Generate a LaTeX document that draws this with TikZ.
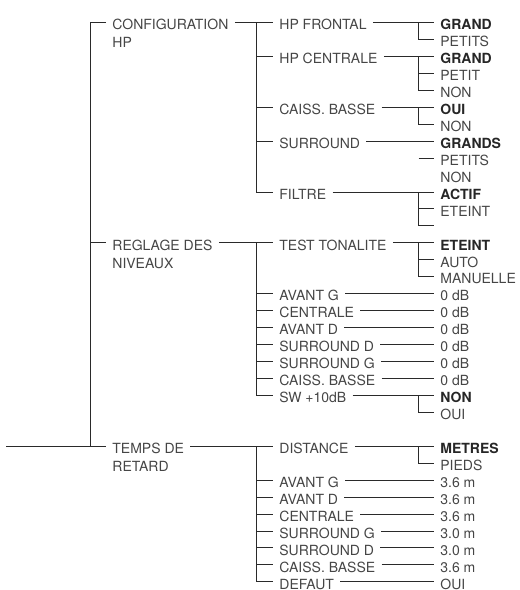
\documentclass[tikz,border=0pt]{standalone}
\usepackage{fontspec}
\setmainfont{TeX Gyre Heros}
\definecolor{txtgray}{HTML}{454545}
\definecolor{wiregray}{HTML}{2A2A2A}
\tikzset{
  item/.style={anchor=west, inner xsep=3pt, inner ysep=0pt, text height=0.72em, text depth=0pt,
    font=\fontsize{7}{8}\selectfont, text=txtgray},
  pick/.style={item, font=\fontsize{7}{8}\selectfont\bfseries, text=black!85},
  wire/.style={draw=wiregray, line width=0.5pt}
}
\begin{document}
\begin{tikzpicture}[x=0.5pt, y=-8.475pt]
                \useasboundingbox (0,-1.3274) rectangle (520,33.481);

                % trunks
                \coordinate (root) at (6,25);
                \coordinate (t1) at (90.5,0);
                \coordinate (t2) at (256.5,0);
                \coordinate (t3) at (418.5,0);

                % level 1
                \node[item] (cfg) at (106,0) {CONFIGURATION};
                \node[item] (cfgb) at (106,1.06) {HP};
                \node[item] (reg) at (106,13) {REGLAGE DES};
                \node[item] (regb) at (106,14.06) {NIVEAUX};
                \node[item] (tps) at (106,25) {TEMPS DE};
                \node[item] (tpsb) at (106,26.06) {RETARD};

                % level 2
                \node[item] (hpf) at (273,0) {HP FRONTAL};
                \node[item] (hpc) at (273,2) {HP CENTRALE};
                \node[item] (cb) at (273,5) {CAISS. BASSE};
                \node[item] (sur) at (273,7) {SURROUND};
                \node[item] (fil) at (273,10) {FILTRE};

                \node[item] (tst) at (273,13) {TEST TONALITE};
                \node[item] (avg) at (273,16) {AVANT G};
                \node[item] (cen) at (273,17) {CENTRALE};
                \node[item] (avd) at (273,18) {AVANT D};
                \node[item] (srd) at (273,19) {SURROUND D};
                \node[item] (srg) at (273,20) {SURROUND G};
                \node[item] (cbs) at (273,21) {CAISS. BASSE};
                \node[item] (sw) at (273,22) {SW +10dB};

                \node[item] (dst) at (273,25) {DISTANCE};
                \node[item] (dag) at (273,27) {AVANT G};
                \node[item] (dad) at (273,28) {AVANT D};
                \node[item] (dce) at (273,29) {CENTRALE};
                \node[item] (dsg) at (273,30) {SURROUND G};
                \node[item] (dsd) at (273,31) {SURROUND D};
                \node[item] (dcb) at (273,32) {CAISS. BASSE};
                \node[item] (dft) at (273,33) {DEFAUT};

                % level 3
                \node[pick] (hpfa) at (434,0) {GRAND};
                \node[item] (hpfb) at (434,1) {PETITS};
                \node[pick] (hpca) at (434,2) {GRAND};
                \node[item] (hpcb) at (434,3) {PETIT};
                \node[item] (hpcc) at (434,4) {NON};
                \node[pick] (cba) at (434,5) {OUI};
                \node[item] (cbb) at (434,6) {NON};
                \node[pick] (sura) at (434,7) {GRANDS};
                \node[item] (surb) at (434,8) {PETITS};
                \node[item] (surc) at (434,9) {NON};
                \node[pick] (fila) at (434,10) {ACTIF};
                \node[item] (filb) at (434,11) {ETEINT};
                \coordinate (filc) at (434,12);

                \node[pick] (tsta) at (434,13) {ETEINT};
                \node[item] (tstb) at (434,14) {AUTO};
                \node[item] (tstc) at (434,15) {MANUELLE};
                \node[item] (avgv) at (434,16) {0 dB};
                \node[item] (cenv) at (434,17) {0 dB};
                \node[item] (avdv) at (434,18) {0 dB};
                \node[item] (srdv) at (434,19) {0 dB};
                \node[item] (srgv) at (434,20) {0 dB};
                \node[item] (cbsv) at (434,21) {0 dB};
                \node[pick] (swa) at (434,22) {NON};
                \node[item] (swb) at (434,23) {OUI};

                \node[pick] (dsta) at (434,25) {METRES};
                \node[item] (dstb) at (434,26) {PIEDS};
                \node[item] (dagv) at (434,27) {3.6 m};
                \node[item] (dadv) at (434,28) {3.6 m};
                \node[item] (dcev) at (434,29) {3.6 m};
                \node[item] (dsgv) at (434,30) {3.0 m};
                \node[item] (dsdv) at (434,31) {3.0 m};
                \node[item] (dcbv) at (434,32) {3.6 m};
                \node[item] (dftv) at (434,33) {OUI};

                % level 1 lines
                \draw[wire] (root) -- (tps.west);
                \draw[wire] (cfg.west) -| (tps.west -| t1);
                \draw[wire] (reg.west -| t1) -- (reg.west);

                % configuration HP
                \draw[wire] (cfg.east) -- (hpf.west);
                \draw[wire] (hpf.west -| t2) |- (fil.west);
                \draw[wire] (hpc.west -| t2) -- (hpc.west);
                \draw[wire] (cb.west -| t2) -- (cb.west);
                \draw[wire] (sur.west -| t2) -- (sur.west);

                \draw[wire] (hpf.east) -- (hpfa.west);
                \draw[wire] (hpfa.west -| t3) |- (hpfb.west);
                \draw[wire] (hpc.east) -- (hpca.west);
                \draw[wire] (hpca.west -| t3) |- (hpcc.west);
                \draw[wire] (hpcb.west -| t3) -- (hpcb.west);
                \draw[wire] (cb.east) -- (cba.west);
                \draw[wire] (cba.west -| t3) |- (cbb.west);
                \draw[wire] (sur.east) -- (sura.west);
                \draw[wire] (surb.west -| t3) -- (surb.west);
                \draw[wire] (fil.east) -- (fila.west);
                \draw[wire] (fila.west -| t3) |- (filc);
                \draw[wire] (filb.west -| t3) -- (filb.west);

                % reglage des niveaux
                \draw[wire] (reg.east) -- (tst.west);
                \draw[wire] (tst.west -| t2) |- (sw.west);
                \draw[wire] (avg.west -| t2) -- (avg.west);
                \draw[wire] (cen.west -| t2) -- (cen.west);
                \draw[wire] (avd.west -| t2) -- (avd.west);
                \draw[wire] (srd.west -| t2) -- (srd.west);
                \draw[wire] (srg.west -| t2) -- (srg.west);
                \draw[wire] (cbs.west -| t2) -- (cbs.west);

                \draw[wire] (tst.east) -- (tsta.west);
                \draw[wire] (tsta.west -| t3) |- (tstc.west);
                \draw[wire] (tstb.west -| t3) -- (tstb.west);
                \draw[wire] (avg.east) -- (avgv.west);
                \draw[wire] (cen.east) -- (cenv.west);
                \draw[wire] (avd.east) -- (avdv.west);
                \draw[wire] (srd.east) -- (srdv.west);
                \draw[wire] (srg.east) -- (srgv.west);
                \draw[wire] (cbs.east) -- (cbsv.west);
                \draw[wire] (sw.east) -- (swa.west);
                \draw[wire] (swa.west -| t3) |- (swb.west);

                % temps de retard
                \draw[wire] (tps.east) -- (dst.west);
                \draw[wire] (dst.west -| t2) |- (dft.west);
                \draw[wire] (dag.west -| t2) -- (dag.west);
                \draw[wire] (dad.west -| t2) -- (dad.west);
                \draw[wire] (dce.west -| t2) -- (dce.west);
                \draw[wire] (dsg.west -| t2) -- (dsg.west);
                \draw[wire] (dsd.west -| t2) -- (dsd.west);
                \draw[wire] (dcb.west -| t2) -- (dcb.west);

                \draw[wire] (dst.east) -- (dsta.west);
                \draw[wire] (dsta.west -| t3) |- (dstb.west);
                \draw[wire] (dag.east) -- (dagv.west);
                \draw[wire] (dad.east) -- (dadv.west);
                \draw[wire] (dce.east) -- (dcev.west);
                \draw[wire] (dsg.east) -- (dsgv.west);
                \draw[wire] (dsd.east) -- (dsdv.west);
                \draw[wire] (dcb.east) -- (dcbv.west);
                \draw[wire] (dft.east) -- (dftv.west);

            \end{tikzpicture}
\end{document}
